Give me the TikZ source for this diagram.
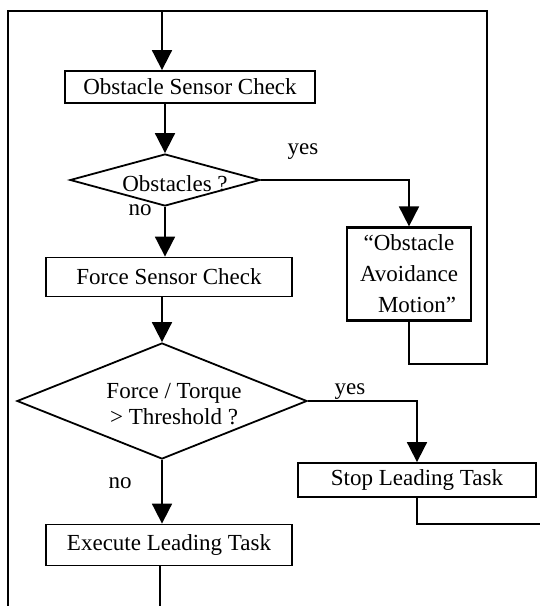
\documentclass[tikz,border=0pt]{standalone}
\usepackage{fontspec}
\setmainfont{Liberation Serif}
\usetikzlibrary{positioning,arrows.meta,shapes.geometric}
\begin{document}
\begin{tikzpicture}[x=1pt,y=-1pt,>={Triangle[length=20pt,width=20pt]},line width=1.8pt,
  font=\fontsize{23}{26}\selectfont,
  stepbox/.style={draw,rectangle,inner sep=0pt},
  decide/.style={draw,diamond,inner sep=0pt},
  lab/.style={inner sep=0pt}]
  \useasboundingbox (0,0) rectangle (540,606);
  \node[stepbox,minimum width=250pt,minimum height=32pt] (sensA) at (190,87) {Obstacle Sensor Check};
  \node[decide,minimum width=190pt,minimum height=52pt,
    label={[xshift=10pt,yshift=-4pt]center:Obstacles ?}] (obst) at (165,180) {};
  \node[stepbox,line width=2.2pt,minimum width=124pt,minimum height=93pt,align=center,
    font=\fontsize{23}{31}\selectfont] (avoid) at (409,274) {``Obstacle\\Avoidance\\\hspace*{16pt}Motion''};
  \node[stepbox,minimum width=246pt,minimum height=39pt] (sensF) at (169,277) {Force Sensor Check};
  \node[decide,minimum width=290pt,minimum height=116pt,
    label={[xshift=12pt,yshift=-3pt,align=center]center:Force / Torque\\> Threshold ?}] (force) at (162,401) {};
  \node[stepbox,minimum width=238pt,minimum height=34pt] (stop) at (417,480) {Stop Leading Task};
  \node[stepbox,minimum width=246pt,minimum height=41pt] (exec) at (169,545) {Execute Leading Task};
  \node[lab] (yesA) at (303,152) {yes};
  \node[lab] (noA) at (140,210) {no};
  \node[lab] (yesB) at (350,392) {yes};
  \node[lab] (noB) at (120,483) {no};
  % loop lines
  \coordinate (tl) at (8,11); \coordinate (bl) at (8,606); \coordinate (tr) at (487,11);
  \coordinate (br) at (487,364); \coordinate (entry) at (162,11);
  \coordinate (out) at (540,524); \coordinate (bot) at (160,606);
  \draw (avoid.south) |- (br) -- (tr) -- (tl) -- (bl);
  \draw[->] (entry) -- (entry |- sensA.north);
  \draw[->] (obst.north |- sensA.south) -- (obst.north);
  \draw[->] (obst.east) -| (avoid.north);
  \draw[->] (obst.south) -- (obst.south |- sensF.north);
  \draw[->] (force.north |- sensF.south) -- (force.north);
  \draw[->] (force.east) -| (stop.north);
  \draw[->] (force.south) -- (force.south |- exec.north);
  \draw (stop.south) |- (out);
  \draw (bot |- exec.south) -- (bot);
\end{tikzpicture}
\end{document}
